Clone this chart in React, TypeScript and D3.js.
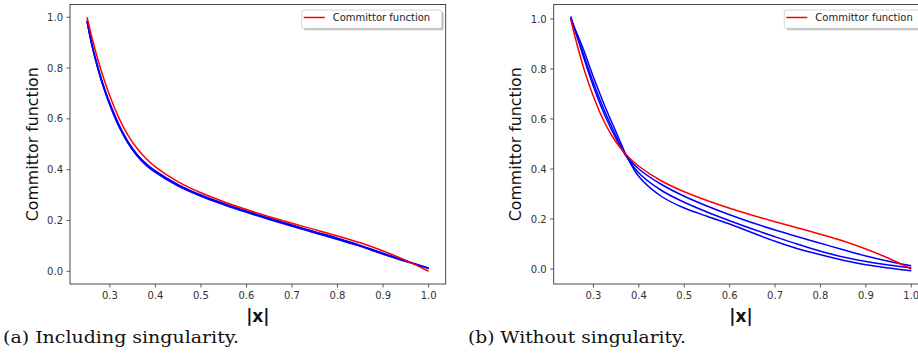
import React from "react"
import * as d3 from "d3"

// |x| sample positions
const xs = [0.25, 0.26, 0.27, 0.28, 0.29, 0.3, 0.32, 0.34, 0.36, 0.38, 0.4, 0.45, 0.5, 0.55, 0.6, 0.65, 0.7, 0.75, 0.8, 0.85, 0.9, 0.95, 1.0]

// reference committor function (red, same in both panels)
const committor = [1.0, 0.925, 0.857, 0.795, 0.74, 0.69, 0.603, 0.535, 0.483, 0.443, 0.411, 0.352, 0.309, 0.274, 0.243, 0.215, 0.189, 0.164, 0.139, 0.112, 0.08, 0.043, 0.0]

// (a) approximations with singularity, three almost identical runs
const withSingA = [0.985, 0.897, 0.825, 0.762, 0.707, 0.658, 0.573, 0.507, 0.457, 0.42, 0.392, 0.338, 0.298, 0.265, 0.235, 0.207, 0.18, 0.154, 0.128, 0.1, 0.069, 0.04, 0.012]
const withSingB = [0.982, 0.893, 0.821, 0.758, 0.703, 0.654, 0.569, 0.504, 0.454, 0.417, 0.389, 0.335, 0.295, 0.262, 0.232, 0.204, 0.177, 0.151, 0.125, 0.098, 0.067, 0.038, 0.013]
const withSingC = [0.988, 0.9, 0.829, 0.766, 0.711, 0.662, 0.577, 0.51, 0.46, 0.423, 0.395, 0.341, 0.3, 0.267, 0.237, 0.209, 0.182, 0.156, 0.13, 0.102, 0.071, 0.042, 0.011]

// (b) approximations without singularity
const xsB = [0.25, 0.276, 0.3, 0.325, 0.353, 0.37, 0.4, 0.45, 0.5, 0.55, 0.6, 0.65, 0.7, 0.75, 0.8, 0.85, 0.9, 0.95, 1.0]
const noSing1 = [1.01, 0.86, 0.73, 0.615, 0.51, 0.458, 0.4, 0.338, 0.291, 0.252, 0.217, 0.185, 0.156, 0.129, 0.103, 0.077, 0.052, 0.031, 0.013]
const noSing2 = [1.005, 0.87, 0.745, 0.63, 0.52, 0.458, 0.384, 0.314, 0.267, 0.228, 0.193, 0.16, 0.129, 0.099, 0.071, 0.048, 0.03, 0.016, 0.005]
const noSing3 = [1.0, 0.888, 0.768, 0.652, 0.535, 0.464, 0.37, 0.29, 0.244, 0.211, 0.18, 0.145, 0.111, 0.081, 0.057, 0.035, 0.017, 0.004, -0.007]

const xTicks = [0.3, 0.4, 0.5, 0.6, 0.7, 0.8, 0.9, 1.0]
const yTicks = [0.0, 0.2, 0.4, 0.6, 0.8, 1.0]

const W = 918
const H = 358
const font = "DejaVu Sans, sans-serif"

type Series = { xs: number[]; ys: number[]; color: string }

const Panel = ({ id, left, right, yDomain, series, caption, captionX, captionW }: {
  id: string; left: number; right: number; yDomain: [number, number]; series: Series[]; caption: string; captionX: number; captionW: number
}) => {
  const top = 4.5
  const bottom = 284
  const x = d3.scaleLinear().domain([0.2125, 1.0375]).range([left, right])
  const y = d3.scaleLinear().domain(yDomain).range([bottom, top])
  const line = d3.line<[number, number]>()
    .x(d => x(d[0]))
    .y(d => y(d[1]))
    .curve(d3.curveCatmullRom.alpha(0.5))
  const legendRight = right - 4
  const lx = legendRight - 140
  return (
    <g>
      <defs>
        <clipPath id={id}>
          <rect x={left} y={top} width={right - left} height={bottom - top} />
        </clipPath>
      </defs>
      <g clipPath={`url(#${id})`}>
        {series.map((s, i) => (
          <path key={i} d={line(s.xs.map((v, j) => [v, s.ys[j]] as [number, number])) || ""}
            fill="none" stroke={s.color} strokeWidth={1.5} />
        ))}
      </g>
      <rect x={left} y={top} width={right - left} height={bottom - top} fill="none" stroke="#333" strokeWidth={0.9} />
      {xTicks.map(t => (
        <g key={t}>
          <line x1={x(t)} x2={x(t)} y1={bottom} y2={bottom + 3.5} stroke="#333" strokeWidth={0.8} />
          <text x={x(t)} y={298.5} textAnchor="middle" fontSize={10} fontFamily={font} fill="#333">{t.toFixed(1)}</text>
        </g>
      ))}
      {yTicks.map(t => (
        <g key={t}>
          <line x1={left - 3.5} x2={left} y1={y(t)} y2={y(t)} stroke="#333" strokeWidth={0.8} />
          <text x={left - 7} y={y(t)} dy="0.35em" textAnchor="end" fontSize={10} fontFamily={font} fill="#333">{t.toFixed(1)}</text>
        </g>
      ))}
      <text transform={`translate(${left - 38},${(top + bottom) / 2}) rotate(-90)`} textAnchor="middle" dy="0.35em"
        fontSize={15.8} fontFamily={font} fill="#111">Committor function</text>
      <text x={(left + right) / 2} y={322} textAnchor="middle" fontSize={17} fontWeight="bold" fontFamily={font} fill="#111">|x|</text>
      {/* legend */}
      <rect x={lx + 2} y={12} width={140} height={18.3} rx={2} fill="#999" opacity={0.6} />
      <rect x={lx} y={10} width={140} height={18.3} rx={2} fill="#fff" stroke="#ccc" strokeWidth={0.8} />
      <line x1={lx + 2} x2={lx + 23} y1={17.5} y2={17.5} stroke="#ff0000" strokeWidth={1.5} />
      <text x={lx + 31} y={17.5} dy="0.35em" fontSize={10} fontFamily={font} fill="#222">Committor function</text>
      <text x={captionX} y={343} fontSize={17} fontFamily="DejaVu Serif, serif" fill="#111"
        textLength={captionW} lengthAdjust="spacingAndGlyphs">{caption}</text>
    </g>
  )
}

export default function App() {
  const red = "#ff0000"
  const blue = "#0000ff"
  const seriesA: Series[] = [
    { xs, ys: withSingA, color: blue },
    { xs, ys: withSingB, color: blue },
    { xs, ys: withSingC, color: blue },
    { xs, ys: committor, color: red },
  ]
  const seriesB: Series[] = [
    { xs: xsB, ys: noSing1, color: blue },
    { xs: xsB, ys: noSing2, color: blue },
    { xs: xsB, ys: noSing3, color: blue },
    { xs, ys: committor, color: red },
  ]
  return (
    <svg width={W} height={H} style={{ position: "absolute", left: 0, top: 0, background: "#fff" }}>
      <Panel id="clipA" left={70} right={445.7} yDomain={[-0.05, 1.05]} series={seriesA}
        caption="(a) Including singularity." captionX={3} captionW={236} />
      <Panel id="clipB" left={553.7} right={928.3} yDomain={[-0.06, 1.058]} series={seriesB}
        caption="(b) Without singularity." captionX={468} captionW={218} />
    </svg>
  )
}
